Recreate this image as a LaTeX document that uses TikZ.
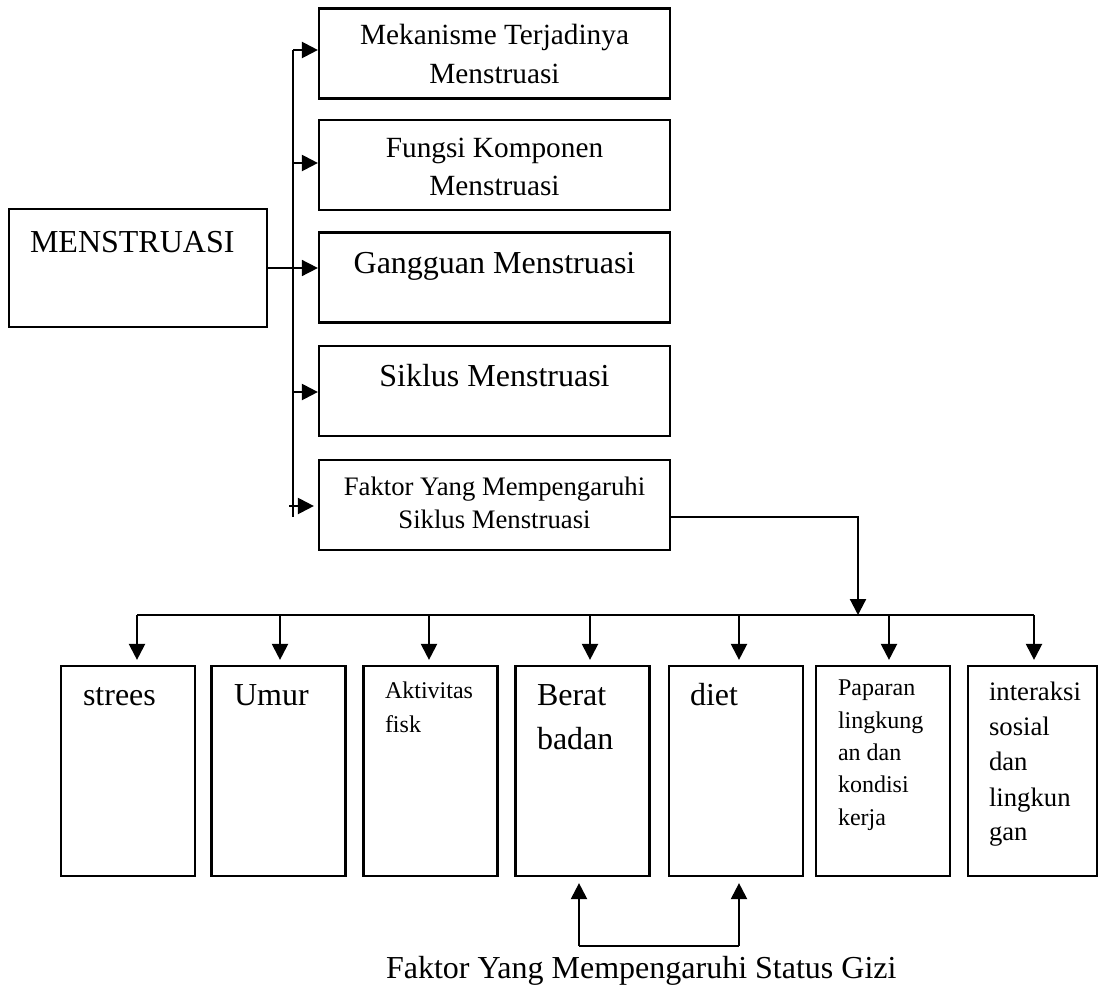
\documentclass[tikz,border=0pt]{standalone}
\usepackage{fontspec}
\setmainfont{Liberation Serif}
\usetikzlibrary{arrows.meta}
\begin{document}
\begin{tikzpicture}[x=1pt,y=-1pt,
  box/.style={draw,line width=2.2pt,inner sep=0pt},
  topbox/.style={box,minimum width=351pt,minimum height=90pt},
  botbox/.style={box,minimum width=134pt,minimum height=210pt},
  ln/.style={line width=2.2pt},
  thinln/.style={line width=1.6pt},
  tip/.style={-{Triangle[length=16pt,width=16pt]}},
  arr/.style={ln,tip},
  txt/.style={inner sep=0pt,outer sep=0pt},
  tA/.style={txt,font=\fontsize{32}{38}\selectfont},
  tB/.style={txt,font=\fontsize{29.3}{36}\selectfont},
  tC/.style={txt,font=\fontsize{26.7}{33}\selectfont},
  tD/.style={txt,font=\fontsize{24}{30}\selectfont}]
\useasboundingbox (0,0) rectangle (1099,990);

% main box
\node[box,minimum width=258pt,minimum height=118pt] (m) at (138,268) {};
\node[tA,anchor=base west] (mt) at (30,252) {MENSTRUASI};

% top boxes
\node[topbox] (b1) at (494.5,53.5) {};
\node[topbox] (b2) at (494.5,165) {};
\node[topbox] (b3) at (494.5,277.5) {};
\node[topbox] (b4) at (494.5,391) {};
\node[topbox] (b5) at (494.5,505) {};

\node[tB,anchor=base] (b1a) at (494.5,45) {Mekanisme Terjadinya};
\node[tB,anchor=base] (b1b) at (494.5,83) {Menstruasi};
\node[tB,anchor=base] (b2a) at (494.5,157) {Fungsi Komponen};
\node[tB,anchor=base] (b2b) at (494.5,195) {Menstruasi};
\node[tA,anchor=base] (b3a) at (494.5,273) {Gangguan Menstruasi};
\node[tA,anchor=base] (b4a) at (494.5,386) {Siklus Menstruasi};
\node[tC,anchor=base] (b5a) at (494.5,495) {Faktor Yang Mempengaruhi};
\node[tC,anchor=base] (b5b) at (494.5,528) {Siklus Menstruasi};

% spine and arrows to top boxes
\coordinate (sp1) at (293,50);
\coordinate (sp2) at (293,163);
\coordinate (sp4) at (293,392);
\coordinate (sp5) at (289,506);
\coordinate (spe) at (293,517);
\draw[ln] (sp1) -- (spe);
\draw[arr] (sp1) -- (sp1 -| b1.west);
\draw[arr] (sp2) -- (sp2 -| b2.west);
\draw[thinln,tip] (m.east) -- (m.east -| b3.west);
\draw[arr] (sp4) -- (sp4 -| b4.west);
\draw[arr,shorten >=4pt] (sp5) -- (sp5 -| b5.west);

% bottom boxes
\node[botbox] (s1) at (128,771) {};
\node[botbox] (s2) at (278.5,771) {};
\node[botbox] (s3) at (430.5,771) {};
\node[botbox] (s4) at (582.5,771) {};
\node[botbox] (s5) at (736,771) {};
\node[botbox] (s6) at (883,771) {};
\node[box,minimum width=129pt,minimum height=210pt] (s7) at (1032.5,771) {};

% connector from Faktor box to bus
\coordinate (fk) at (858,517);
\coordinate (bj) at (858,615);
\draw[arr] (fk -| b5.east) -- (fk) -- (bj);

% bus and down arrows
\coordinate (d1) at (137,615);
\coordinate (d2) at (280,615);
\coordinate (d3) at (429,615);
\coordinate (d4) at (590,615);
\coordinate (d5) at (739,615);
\coordinate (d6) at (889,615);
\coordinate (d7) at (1034,615);
\draw[ln] (d1) -- (d7);
\draw[arr,shorten >=5pt] (d1) -- (d1 |- s1.north);
\draw[arr,shorten >=5pt] (d2) -- (d2 |- s2.north);
\draw[arr,shorten >=5pt] (d3) -- (d3 |- s3.north);
\draw[arr,shorten >=5pt] (d4) -- (d4 |- s4.north);
\draw[arr,shorten >=5pt] (d5) -- (d5 |- s5.north);
\draw[arr,shorten >=5pt] (d6) -- (d6 |- s6.north);
\draw[arr,shorten >=5pt] (d7) -- (d7 |- s7.north);

% bottom box texts
\node[tA,anchor=base west] (s1a) at (83,705) {strees};
\node[tA,anchor=base west] (s2a) at (234,705) {Umur};
\node[tD,anchor=base west] (s3a) at (385,698) {Aktivitas};
\node[tD,anchor=base west] (s3b) at (385,732) {fisk};
\node[tA,anchor=base west] (s4a) at (537,705) {Berat};
\node[tA,anchor=base west] (s4b) at (537,749) {badan};
\node[tA,anchor=base west] (s5a) at (690,705) {diet};
\node[tD,anchor=base west] (s6a) at (838,695) {Paparan};
\node[tD,anchor=base west] (s6b) at (838,728) {lingkung};
\node[tD,anchor=base west] (s6c) at (838,760) {an dan};
\node[tD,anchor=base west] (s6d) at (838,792) {kondisi};
\node[tD,anchor=base west] (s6e) at (838,825) {kerja};
\node[tC,anchor=base west] (s7a) at (989,700) {interaksi};
\node[tC,anchor=base west] (s7b) at (989,735) {sosial};
\node[tC,anchor=base west] (s7c) at (989,770) {dan};
\node[tC,anchor=base west] (s7d) at (989,806) {lingkun};
\node[tC,anchor=base west] (s7e) at (989,840) {gan};

% status gizi
\coordinate (g1) at (579,946);
\coordinate (g2) at (739,946);
\draw[ln] (g1) -- (g2);
\draw[arr,shorten >=6pt] (g1) -- (g1 |- s4.south);
\draw[arr,shorten >=6pt] (g2) -- (g2 |- s5.south);
\node[tA,anchor=base west] (gz) at (386,978) {Faktor Yang Mempengaruhi Status Gizi};
\end{tikzpicture}
\end{document}
